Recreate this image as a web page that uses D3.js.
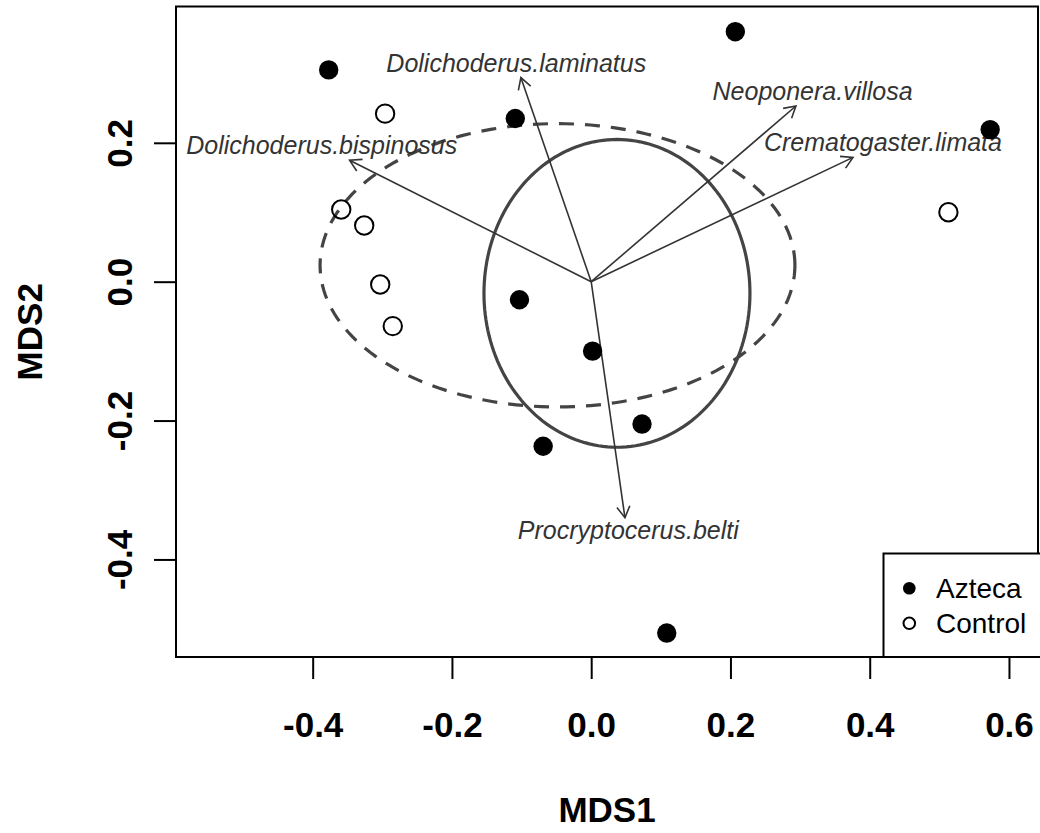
<!DOCTYPE html>
<html>
<head>
<meta charset="utf-8">
<script src="https://cdn.jsdelivr.net/npm/d3@7"></script>
<style>
  html, body { margin: 0; padding: 0; background: #fff; }
  svg { display: block; font-family: "Liberation Sans", Arial, Helvetica, sans-serif; }
</style>
</head>
<body>
<svg id="chart" width="1040" height="833"></svg>
<script>
// ---------- data ----------
const aztecaX = [-0.377, -0.109, 0.207, 0.573, -0.103, 0.002, 0.073, -0.069, 0.1085];
const aztecaY = [0.305, 0.235, 0.360, 0.219, -0.026, -0.100, -0.205, -0.237, -0.506];

const controlX = [-0.296, -0.359, -0.326, -0.303, -0.285, 0.513];
const controlY = [0.242, 0.104, 0.081, -0.004, -0.064, 0.100];

const speciesNames = ["Dolichoderus.laminatus", "Dolichoderus.bispinosus", "Neoponera.villosa", "Crematogaster.limata", "Procryptocerus.belti"];
const arrowX = [-0.101, -0.347, 0.294, 0.376, 0.0485];
const arrowY = [0.294, 0.175, 0.253, 0.179, -0.340];
const labelX = [-0.1076, -0.387, 0.318, 0.419, 0.0533];
const labelY = [0.315, 0.197, 0.275, 0.2006, -0.357];

// group ellipses: centre x, centre y, radius x, radius y
const ellipseGroups = ["Azteca", "Control"];
const ellipseCX = [0.037, -0.0484];
const ellipseCY = [-0.0168, 0.0236];
const ellipseRX = [0.191, 0.341];
const ellipseRY = [0.2216, 0.204];

const xTicks = [-0.4, -0.2, 0.0, 0.2, 0.4, 0.6];
const xTickLabels = ["-0.4", "-0.2", "0.0", "0.2", "0.4", "0.6"];
const yTicks = [-0.4, -0.2, 0.0, 0.2];
const yTickLabels = ["-0.4", "-0.2", "0.0", "0.2"];
const legendLabels = ["Azteca", "Control"];
const xTitle = "MDS1";
const yTitle = "MDS2";

// ---------- layout ----------
const L = 176, R = 1038, T = 6.5, B = 657;
const x = d3.scaleLinear().domain([-0.5963, 0.6417]).range([L, R]);
const y = d3.scaleLinear().domain([-0.5405, 0.3963]).range([B, T]);

const svg = d3.select("#chart");

// axes
const gx = svg.append("g").attr("transform", `translate(0,${B})`)
  .call(d3.axisBottom(x).tickValues(xTicks).tickFormat((d, i) => xTickLabels[i]).tickSize(22).tickSizeOuter(0));
gx.select(".domain").remove();
gx.selectAll(".tick line").attr("stroke", "#000").attr("stroke-width", 2);
gx.selectAll(".tick text").attr("y", 80).attr("dy", 0)
  .attr("font-size", 35).attr("font-weight", "bold").attr("fill", "#000")
  .attr("font-family", "'Liberation Sans', Arial, sans-serif");

const gy = svg.append("g").attr("transform", `translate(${L},0)`)
  .call(d3.axisLeft(y).tickValues(yTicks).tickFormat((d, i) => yTickLabels[i]).tickSize(22).tickSizeOuter(0));
gy.select(".domain").remove();
gy.selectAll(".tick line").attr("stroke", "#000").attr("stroke-width", 2);
gy.selectAll(".tick text").attr("x", 0).attr("y", 0).attr("dy", 0)
  .attr("transform", "translate(-44,0) rotate(-90)")
  .attr("text-anchor", "middle")
  .attr("font-size", 35).attr("font-weight", "bold").attr("fill", "#000")
  .attr("font-family", "'Liberation Sans', Arial, sans-serif");

// axis titles
svg.append("text").attr("x", (L + R) / 2).attr("y", 822)
  .attr("text-anchor", "middle").attr("font-size", 35).attr("font-weight", "bold").text(xTitle);
svg.append("text").attr("transform", `translate(42,${(T + B) / 2}) rotate(-90)`)
  .attr("text-anchor", "middle").attr("font-size", 35).attr("font-weight", "bold").text(yTitle);

// plot area clip
svg.append("clipPath").attr("id", "clip").append("rect")
  .attr("x", L).attr("y", T).attr("width", R - L).attr("height", B - T);
const plot = svg.append("g").attr("clip-path", "url(#clip)");

// ellipses
const angles = d3.range(0, 361, 2).map(a => a * Math.PI / 180);
const ell = d3.line().x(d => x(d[0])).y(d => y(d[1]));
ellipseGroups.forEach((g, i) => {
  const pts = angles.map(t => [ellipseCX[i] + ellipseRX[i] * Math.cos(t), ellipseCY[i] + ellipseRY[i] * Math.sin(t)]);
  plot.append("path").attr("d", ell(pts) + "Z")
    .attr("fill", "none").attr("stroke", "#444").attr("stroke-width", 3.2)
    .attr("stroke-dasharray", g === "Control" ? "15,11" : null);
});

// arrows
const headLen = 13, headAng = Math.PI / 6;
speciesNames.forEach((n, i) => {
  const x0 = x(0), y0 = y(0), x1 = x(arrowX[i]), y1 = y(arrowY[i]);
  const ang = Math.atan2(y1 - y0, x1 - x0);
  plot.append("line").attr("x1", x0).attr("y1", y0).attr("x2", x1).attr("y2", y1)
    .attr("stroke", "#333").attr("stroke-width", 1.6);
  const p = d3.path();
  p.moveTo(x1 - headLen * Math.cos(ang - headAng), y1 - headLen * Math.sin(ang - headAng));
  p.lineTo(x1, y1);
  p.lineTo(x1 - headLen * Math.cos(ang + headAng), y1 - headLen * Math.sin(ang + headAng));
  plot.append("path").attr("d", p.toString()).attr("fill", "none")
    .attr("stroke", "#333").attr("stroke-width", 1.6);
  plot.append("text").attr("x", x(labelX[i])).attr("y", y(labelY[i]) + 9)
    .attr("text-anchor", "middle").attr("font-size", 25).attr("font-style", "italic")
    .attr("fill", "#333").text(n);
});

// points
plot.selectAll("circle.az").data(aztecaX.map((v, i) => [v, aztecaY[i]])).enter()
  .append("circle").attr("class", "az")
  .attr("cx", d => x(d[0])).attr("cy", d => y(d[1])).attr("r", 9.7).attr("fill", "#000");
plot.selectAll("circle.ct").data(controlX.map((v, i) => [v, controlY[i]])).enter()
  .append("circle").attr("class", "ct")
  .attr("cx", d => x(d[0])).attr("cy", d => y(d[1])).attr("r", 9.2)
  .attr("fill", "none").attr("stroke", "#000").attr("stroke-width", 2);

// plot box
svg.append("rect").attr("x", L).attr("y", T).attr("width", R - L).attr("height", B - T)
  .attr("fill", "none").attr("stroke", "#000").attr("stroke-width", 2);

// legend
const lg = svg.append("g");
lg.append("rect").attr("x", 883.5).attr("y", 553.5).attr("width", 200).attr("height", B - 553.5)
  .attr("fill", "#fff").attr("stroke", "#000").attr("stroke-width", 2);
legendLabels.forEach((lab, i) => {
  const cy = 588.3 + i * 35;
  const c = lg.append("circle").attr("cx", 909.3).attr("cy", cy).attr("r", i === 0 ? 6.3 : 5.8);
  if (i === 0) c.attr("fill", "#000");
  else c.attr("fill", "none").attr("stroke", "#000").attr("stroke-width", 2);
  lg.append("text").attr("x", 936).attr("y", cy + 10).attr("font-size", 28).attr("fill", "#000").text(lab);
});
</script>
</body>
</html>
